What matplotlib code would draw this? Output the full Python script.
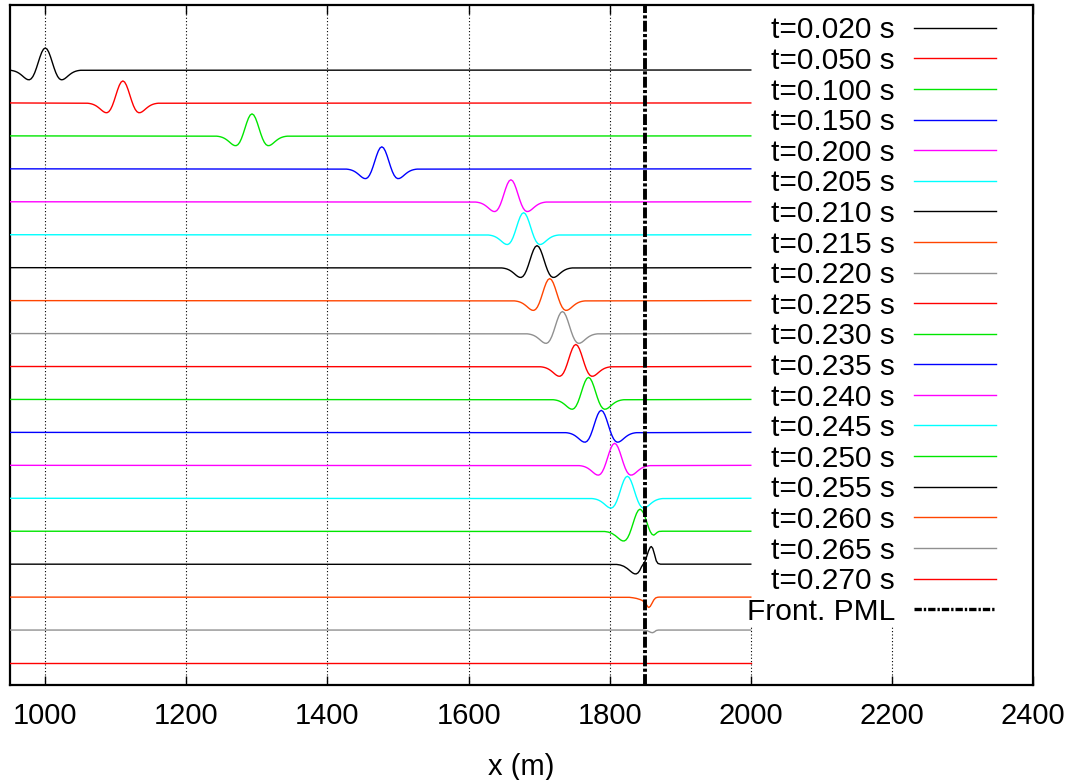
import numpy as np
import matplotlib
matplotlib.use("Agg")
import matplotlib.pyplot as plt
from matplotlib.patches import Rectangle
from matplotlib.lines import Line2D

# ---------------- data ----------------
times = ["0.020", "0.050", "0.100", "0.150", "0.200", "0.205", "0.210", "0.215",
         "0.220", "0.225", "0.230", "0.235", "0.240", "0.245", "0.250", "0.255",
         "0.260", "0.265", "0.270"]
colors = ["#000000", "#ff0000", "#00e600", "#0000ff", "#ff00ff", "#00ffff",
          "#000000", "#ff4500", "#909090", "#ff0000", "#00e600", "#0000ff",
          "#ff00ff", "#00ffff", "#00e600", "#000000", "#ff4500", "#909090",
          "#ff0000"]
# pulse centres (m) for traces whose wavelet is still complete
centers = [1000, 1110, 1293, 1477, 1660, 1678, 1697, 1715, 1733, 1752, 1770,
           1788, 1807, 1825]
# wavelet shape (offset in m, normalised amplitude)
shape_dx = [-50.0, -47.5, -45.0, -42.5, -40.0, -37.5, -35.0, -32.5, -30.0, -27.5,
            -25.0, -22.5, -20.0, -17.5, -15.0, -12.5, -10.0, -7.5, -5.0, -2.5,
            0.0, 2.5, 5.0, 7.5, 10.0, 12.5, 15.0, 17.5, 20.0, 22.5,
            25.0, 27.5, 30.0, 32.5, 35.0, 37.5, 40.0, 42.5, 45.0, 47.5, 50.0]
shape_val = [-0.013, -0.023, -0.039, -0.063, -0.097, -0.142, -0.199, -0.264, -0.334, -0.396,
             -0.437, -0.444, -0.399, -0.294, -0.127, 0.093, 0.343, 0.593, 0.806, 0.949,
             1.000, 0.949, 0.806, 0.593, 0.343, 0.093, -0.127, -0.294, -0.399, -0.444,
             -0.437, -0.396, -0.334, -0.264, -0.199, -0.142, -0.097, -0.063, -0.039, -0.023, -0.013]
# traces entering the PML (absolute x in m, normalised amplitude)
t0250_x = [1793, 1798, 1803, 1808, 1813, 1815.5, 1818, 1820.5, 1823, 1825.5, 1828,
           1830.5, 1833, 1835.5, 1838, 1840.5, 1843, 1845, 1847.5, 1850, 1852.5,
           1855, 1857.5, 1860, 1862.5, 1865, 1867.5, 1870, 1875]
t0250_v = [-0.013, -0.039, -0.097, -0.199, -0.334, -0.396, -0.437, -0.444, -0.399,
           -0.294, -0.127, 0.093, 0.343, 0.593, 0.806, 0.949, 1.0, 0.96, 0.85, 0.66,
           0.42, 0.18, -0.02, -0.14, -0.18, -0.12, -0.05, -0.01, 0.0]
t0255_x = [1810, 1815, 1820, 1825, 1830, 1832.5, 1835, 1837.5, 1840, 1842.5, 1845,
           1847.5, 1850, 1852.5, 1855, 1857.5, 1859, 1861, 1863.5, 1866, 1868.5, 1872]
t0255_v = [-0.013, -0.039, -0.097, -0.199, -0.334, -0.396, -0.437, -0.444, -0.399,
           -0.294, -0.127, 0.0, 0.12, 0.35, 0.60, 0.77, 0.80, 0.72, 0.45, 0.15, 0.03, 0.0]
t0260_x = [1828, 1833, 1838, 1843, 1846, 1848, 1850, 1852, 1854, 1855.5, 1857.5,
           1860, 1862.5, 1865, 1867.5, 1870]
t0260_v = [-0.01, -0.03, -0.06, -0.11, -0.15, -0.20, -0.25, -0.34, -0.44, -0.47,
           -0.42, -0.28, -0.13, -0.04, -0.01, 0.0]
t0265_x = [1848, 1853, 1856, 1858.5, 1861, 1863.5, 1866, 1869]
t0265_v = [0.0, -0.03, -0.07, -0.11, -0.12, -0.08, -0.02, 0.0]
t0270_x = []
t0270_v = []
custom = {14: (t0250_x, t0250_v), 15: (t0255_x, t0255_v), 16: (t0260_x, t0260_v),
          17: (t0265_x, t0265_v), 18: (t0270_x, t0270_v)}

x_start, x_end = 950, 2000
pml_x = 1850
xticks = [1000, 1200, 1400, 1600, 1800, 2000, 2200, 2400]
xlabel = "x (m)"
pml_label = "Front. PML"

# ---------------- style ----------------
W, H = 1078, 780
AMP = 0.668
FONT = "Liberation Sans"
plt.rcParams["font.family"] = [FONT, "DejaVu Sans"]

fig = plt.figure(figsize=(W / 100, H / 100), dpi=100)
ax = fig.add_axes([10 / W, 1 - 685 / H, (1033 - 10) / W, (685 - 5) / H])

def fx(px):
    return px / W

def fy(py):
    return 1 - py / H

for i, t in enumerate(times):
    if i in custom:
        px, pv = custom[i]
    else:
        px = [centers[i] + d for d in shape_dx]
        pv = list(shape_val)
    xs = [x_start] + [x for x in px if x_start < x < x_end] + [x_end]
    vs = [0.0] + [v for x, v in zip(px, pv) if x_start < x < x_end] + [0.0]
    ys = -i + AMP * np.array(vs)
    ax.plot(xs, ys, color=colors[i], lw=1.0, zorder=3, solid_joinstyle="round")

ax.axvline(pml_x, color="black", lw=2.8, linestyle=(0, (2.8, 0.6, 0.8, 0.6)), zorder=4)

ax.set_xlim(950, 2400)
ax.set_ylim(-18.668, 1.973)
ax.set_xticks(xticks)
ax.set_xticklabels([str(v) for v in xticks], fontsize=21)
ax.set_yticks([])
ax.tick_params(axis="x", direction="in", length=6.5, width=1.0, top=True, pad=12.2)
ax.grid(axis="x", color="black", lw=0.8, linestyle=(0, (1, 2)))
ax.set_axisbelow(True)
for s in ax.spines.values():
    s.set_linewidth(1.6)
ax.set_xlabel(xlabel, fontsize=21, labelpad=16.5)

# key background (hides the grid behind the key)
ax.add_patch(Rectangle((fx(742), fy(626)), fx(1030) - fx(742), fy(6) - fy(626),
                       transform=fig.transFigure, facecolor="white",
                       edgecolor="none", zorder=2))

# key
labels = ["t=%s s" % t for t in times] + [pml_label]
for k, lab in enumerate(labels):
    py = 27.7 + 30.6 * k
    ax.text(fx(895), fy(py + 10.7), lab, transform=fig.transFigure,
            ha="right", va="baseline", fontsize=21.5, zorder=5)
    if k < len(times):
        ln = Line2D([fx(914), fx(996)], [fy(py), fy(py)], transform=fig.transFigure,
                    color=colors[k], lw=1.0, zorder=5)
    else:
        ln = Line2D([fx(914), fx(996)], [fy(py), fy(py)], transform=fig.transFigure,
                    color="black", lw=2.4, linestyle=(0, (2.2, 0.6, 0.7, 0.6)), zorder=5)
    ax.add_line(ln)
    ln.set_clip_on(False)

fig.savefig("out.png", dpi=100)
